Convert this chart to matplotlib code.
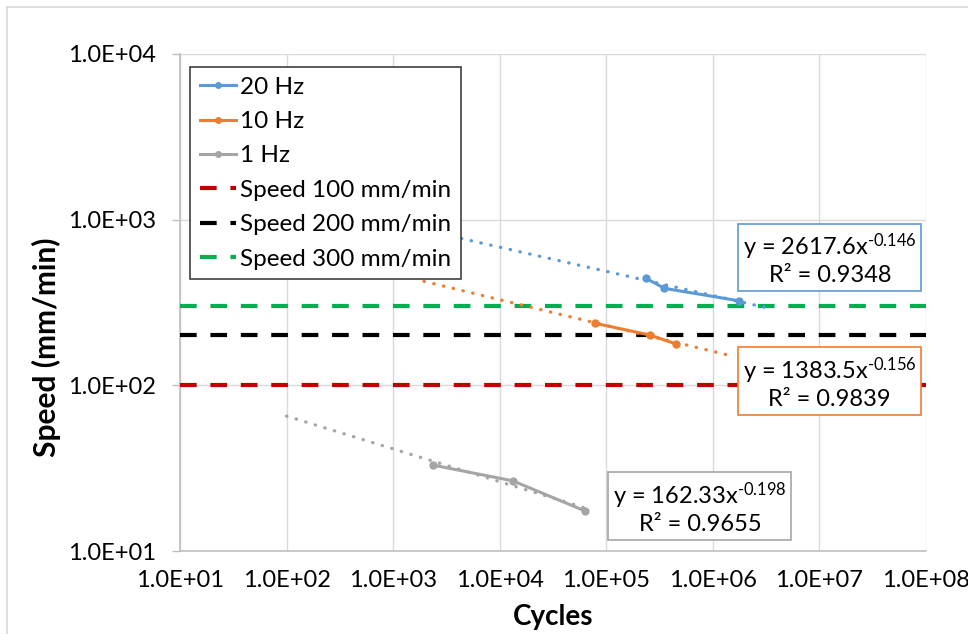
import numpy as np
import matplotlib.pyplot as plt
from matplotlib.ticker import FuncFormatter, LogLocator, NullLocator
from matplotlib.lines import Line2D

plt.rcParams['font.family'] = ['Lato', 'DejaVu Sans']
plt.rcParams['mathtext.fontset'] = 'custom'
plt.rcParams['mathtext.rm'] = 'Lato'
plt.rcParams['mathtext.default'] = 'regular'

# Datos
cycles_20hz = [2.37e5, 3.51e5, 1.75e6]
speed_20hz = [442, 385, 324]
cycles_10hz = [7.92e4, 2.58e5, 4.52e5]
speed_10hz = [236.6, 201, 177.6]
cycles_1hz = [2.37e3, 1.33e4, 6.38e4]
speed_1hz = [33.0, 26.5, 17.4]

# Lineas de referencia (velocidad)
ref_speeds = [100, 200, 300]
ref_labels = ['Speed 100 mm/min', 'Speed 200 mm/min', 'Speed 300 mm/min']
ref_colors = ['#C00000', '#000000', '#00B050']

# Lineas de tendencia potencial: y = a * x^b
trend_a = [2617.6, 1383.5, 162.33]
trend_b = [-0.146, -0.156, -0.198]
trend_r2 = ['0.9348', '0.9839', '0.9655']
trend_x0 = [1.0e3, 1.95e3, 1.0e2]
trend_x1 = [3.5e6, 1.38e6, 6.6e4]

series_labels = ['20 Hz', '10 Hz', '1 Hz']
series_colors = ['#5B9BD5', '#ED7D31', '#A5A5A5']
series_x = [cycles_20hz, cycles_10hz, cycles_1hz]
series_y = [speed_20hz, speed_10hz, speed_1hz]

fig = plt.figure(figsize=(9.68, 6.34), dpi=100)
ax = fig.add_axes([180/968, 1 - 551/634, 746/968, 497/634])

ax.set_xscale('log')
ax.set_yscale('log')
ax.set_xlim(1e1, 1e8)
ax.set_ylim(1e1, 1e4)

handles = []
for xs, ys, lab, col in zip(series_x, series_y, series_labels, series_colors):
    h, = ax.plot(xs, ys, '-o', color=col, lw=2.2, ms=5, label=lab, zorder=4)
    handles.append(h)

for v, lab, col in zip(ref_speeds, ref_labels, ref_colors):
    h = ax.axhline(v, color=col, lw=3, ls=(0, (4, 3.3)), label=lab, zorder=3)
    handles.append(h)

# Lineas de tendencia punteadas
for a, b, x0, x1, col in zip(trend_a, trend_b, trend_x0, trend_x1, series_colors):
    xt = np.array([x0, x1])
    ax.plot(xt, a * xt ** b, color=col, lw=2.4, ls=(0, (0.1, 2.9)),
            dash_capstyle='round', zorder=3)

# Cajas con ecuaciones
box_pos = [(0.871, 0.5875), (0.8706, 0.339), (0.697, 0.0875)]
for a, b, r2, col, (bx, by) in zip(trend_a, trend_b, trend_r2, series_colors, box_pos):
    txt = 'y = %gx$^{\\text{%.3f}}$\nR² = %s' % (a, b, r2)
    ax.text(bx, by, txt, transform=ax.transAxes, ha='center', va='center',
            fontsize=17, linespacing=1.2, zorder=6,
            bbox=dict(boxstyle='square,pad=0.2', fc='white', ec=col, lw=1.2))

# Ejes y grilla
fmt = FuncFormatter(lambda v, p: '%.1E' % v)
ax.xaxis.set_major_locator(LogLocator(base=10, numticks=20))
ax.yaxis.set_major_locator(LogLocator(base=10, numticks=20))
ax.xaxis.set_minor_locator(NullLocator())
ax.yaxis.set_minor_locator(NullLocator())
ax.xaxis.set_major_formatter(fmt)
ax.yaxis.set_major_formatter(fmt)
ax.tick_params(axis='x', length=0, pad=14, labelsize=17)
ax.tick_params(axis='y', length=6, width=1, color='#BFBFBF', pad=11, labelsize=17)
ax.grid(True, color='#D9D9D9', lw=1)
ax.set_axisbelow(True)
for s in ['top', 'right']:
    ax.spines[s].set_visible(False)
for s in ['left', 'bottom']:
    ax.spines[s].set_color('#BFBFBF')
    ax.spines[s].set_linewidth(1.2)

ax.set_xlabel('Cycles', fontsize=20, fontweight='bold', labelpad=9)
ax.set_ylabel('Speed (mm/min)', fontsize=21.5, fontweight='bold')
ax.yaxis.set_label_coords(-0.16, 0.41)

leg = ax.legend(handles=handles, loc='upper left', bbox_to_anchor=(0.0134, 0.974),
                borderaxespad=0, fontsize=17.5, fancybox=False, framealpha=1,
                edgecolor='#404040', handlelength=1.5, handletextpad=0.15,
                labelspacing=0.55, borderpad=0.4, markerscale=0.8)
leg.get_frame().set_linewidth(1.2)
leg.set_zorder(5)

# Borde exterior del grafico
fig.add_artist(Line2D([7/968, 7/968], [0, 1 - 7/634], color='#D9D9D9', lw=1.2))
fig.add_artist(Line2D([7/968, 1], [1 - 7/634, 1 - 7/634], color='#D9D9D9', lw=1.2))

plt.savefig('out.png', dpi=100)
